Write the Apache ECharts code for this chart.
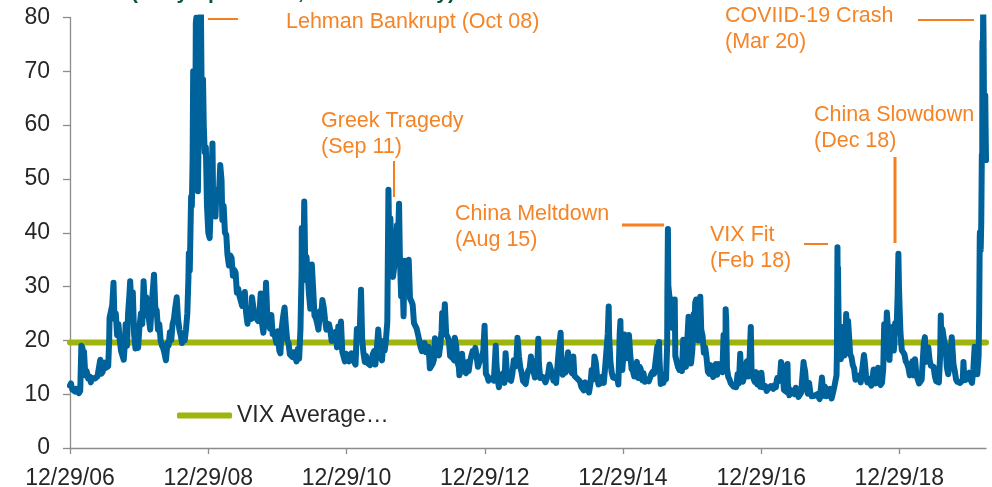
<!DOCTYPE html>
<html>
<head>
<meta charset="utf-8">
<script src="https://cdn.jsdelivr.net/npm/echarts@6/dist/echarts.min.js"></script>
<style>
html, body { margin: 0; padding: 0; background: #fff; }
#vix { width: 992px; height: 487px; }
</style>
</head>
<body>
<div id="vix"></div>
<script>
// VIX close (roughly weekly, denser around spikes)
var vixDates = [
 '2006-12-29','2007-01-03','2007-01-10','2007-01-17','2007-01-24','2007-01-31','2007-02-07','2007-02-14','2007-02-21','2007-02-27',
 '2007-03-05','2007-03-09','2007-03-13','2007-03-20','2007-03-27','2007-04-04','2007-04-11','2007-04-18','2007-04-25','2007-05-02',
 '2007-05-09','2007-05-16','2007-05-23','2007-05-30','2007-06-07','2007-06-13','2007-06-20','2007-06-27','2007-07-05','2007-07-12',
 '2007-07-19','2007-07-24','2007-07-26','2007-08-01','2007-08-09','2007-08-16','2007-08-21','2007-08-28','2007-09-04','2007-09-11',
 '2007-09-18','2007-09-25','2007-10-02','2007-10-09','2007-10-16','2007-10-19','2007-10-26','2007-11-01','2007-11-08','2007-11-12',
 '2007-11-19','2007-11-26','2007-12-03','2007-12-10','2007-12-17','2007-12-24','2007-12-31',
 '2008-01-08','2008-01-15','2008-01-22','2008-01-29','2008-02-05','2008-02-12','2008-02-19','2008-02-26','2008-03-04','2008-03-10',
 '2008-03-17','2008-03-24','2008-03-31','2008-04-07','2008-04-14','2008-04-21','2008-04-28','2008-05-05','2008-05-12','2008-05-19',
 '2008-05-27','2008-06-02','2008-06-09','2008-06-16','2008-06-23','2008-06-30','2008-07-07','2008-07-15','2008-07-22','2008-07-29',
 '2008-08-05','2008-08-12','2008-08-19','2008-08-26','2008-09-02','2008-09-09','2008-09-15','2008-09-17','2008-09-22','2008-09-29',
 '2008-10-03','2008-10-07','2008-10-10','2008-10-16','2008-10-20','2008-10-24','2008-10-27','2008-10-31','2008-11-04','2008-11-07',
 '2008-11-12','2008-11-17','2008-11-20','2008-11-25','2008-12-01','2008-12-05','2008-12-10','2008-12-16','2008-12-22','2008-12-29',
 '2009-01-05','2009-01-09','2009-01-15','2009-01-20','2009-01-23','2009-01-30','2009-02-05','2009-02-10','2009-02-17','2009-02-23',
 '2009-03-02','2009-03-09','2009-03-13','2009-03-20','2009-03-27','2009-04-03','2009-04-09','2009-04-17','2009-04-24','2009-05-01',
 '2009-05-08','2009-05-15','2009-05-22','2009-05-29','2009-06-05','2009-06-12','2009-06-19','2009-06-26','2009-07-02','2009-07-10',
 '2009-07-17','2009-07-24','2009-07-31','2009-08-07','2009-08-14','2009-08-17','2009-08-28','2009-09-04','2009-09-11','2009-09-18',
 '2009-09-25','2009-10-02','2009-10-09','2009-10-16','2009-10-23','2009-10-30','2009-11-06','2009-11-13','2009-11-20','2009-11-27',
 '2009-12-04','2009-12-11','2009-12-18','2009-12-24','2009-12-31',
 '2010-01-08','2010-01-14','2010-01-21','2010-01-29','2010-02-05','2010-02-12','2010-02-19','2010-02-26','2010-03-05','2010-03-12',
 '2010-03-19','2010-03-26','2010-04-02','2010-04-09','2010-04-16','2010-04-23','2010-04-30','2010-05-06','2010-05-07','2010-05-14',
 '2010-05-20','2010-05-25','2010-06-01','2010-06-07','2010-06-14','2010-06-21','2010-06-29','2010-07-06','2010-07-13','2010-07-20',
 '2010-07-27','2010-08-03','2010-08-11','2010-08-17','2010-08-24','2010-08-31','2010-09-07','2010-09-14','2010-09-21','2010-09-28',
 '2010-10-05','2010-10-12','2010-10-19','2010-10-26','2010-11-02','2010-11-09','2010-11-16','2010-11-23','2010-11-30','2010-12-07',
 '2010-12-14','2010-12-21','2010-12-28',
 '2011-01-04','2011-01-11','2011-01-18','2011-01-25','2011-02-01','2011-02-08','2011-02-15','2011-02-22','2011-03-01','2011-03-08',
 '2011-03-16','2011-03-22','2011-03-29','2011-04-05','2011-04-12','2011-04-19','2011-04-26','2011-05-03','2011-05-10','2011-05-17',
 '2011-05-24','2011-05-31','2011-06-07','2011-06-15','2011-06-21','2011-06-28','2011-07-05','2011-07-12','2011-07-19','2011-07-26',
 '2011-08-02','2011-08-04','2011-08-08','2011-08-10','2011-08-15','2011-08-18','2011-08-22','2011-08-26','2011-09-01','2011-09-08',
 '2011-09-12','2011-09-19','2011-09-22','2011-09-27','2011-10-03','2011-10-07','2011-10-14','2011-10-21','2011-10-27','2011-11-01',
 '2011-11-08','2011-11-16','2011-11-23','2011-11-30','2011-12-07','2011-12-14','2011-12-21','2011-12-28',
 '2012-01-04','2012-01-11','2012-01-18','2012-01-25','2012-02-01','2012-02-08','2012-02-15','2012-02-22','2012-02-29','2012-03-07',
 '2012-03-14','2012-03-21','2012-03-28','2012-04-04','2012-04-10','2012-04-17','2012-04-24','2012-05-01','2012-05-08','2012-05-15',
 '2012-05-18','2012-05-25','2012-06-01','2012-06-08','2012-06-15','2012-06-22','2012-06-29','2012-07-06','2012-07-13','2012-07-20',
 '2012-07-24','2012-07-31','2012-08-07','2012-08-14','2012-08-17','2012-08-24','2012-08-31','2012-09-07','2012-09-14','2012-09-21',
 '2012-09-28','2012-10-05','2012-10-12','2012-10-19','2012-10-26','2012-11-02','2012-11-09','2012-11-16','2012-11-23','2012-11-30',
 '2012-12-07','2012-12-14','2012-12-21','2012-12-28',
 '2013-01-04','2013-01-11','2013-01-18','2013-01-25','2013-02-01','2013-02-08','2013-02-15','2013-02-25','2013-03-01','2013-03-08',
 '2013-03-14','2013-03-22','2013-03-28','2013-04-05','2013-04-12','2013-04-18','2013-04-26','2013-05-03','2013-05-10','2013-05-17',
 '2013-05-24','2013-05-31','2013-06-07','2013-06-14','2013-06-20','2013-06-28','2013-07-05','2013-07-12','2013-07-19','2013-07-26',
 '2013-08-02','2013-08-09','2013-08-16','2013-08-23','2013-08-30','2013-09-06','2013-09-13','2013-09-20','2013-09-27','2013-10-04',
 '2013-10-08','2013-10-11','2013-10-18','2013-10-25','2013-11-01','2013-11-08','2013-11-15','2013-11-22','2013-11-29','2013-12-06',
 '2013-12-13','2013-12-20','2013-12-27',
 '2014-01-03','2014-01-10','2014-01-17','2014-01-24','2014-01-31','2014-02-03','2014-02-07','2014-02-14','2014-02-21','2014-02-28',
 '2014-03-07','2014-03-14','2014-03-21','2014-03-28','2014-04-04','2014-04-11','2014-04-17','2014-04-25','2014-05-02','2014-05-09',
 '2014-05-16','2014-05-23','2014-05-30','2014-06-06','2014-06-13','2014-06-20','2014-06-27','2014-07-03','2014-07-11','2014-07-17',
 '2014-07-25','2014-08-01','2014-08-08','2014-08-15','2014-08-22','2014-08-29','2014-09-05','2014-09-12','2014-09-19','2014-09-26',
 '2014-10-03','2014-10-10','2014-10-15','2014-10-17','2014-10-24','2014-10-31','2014-11-07','2014-11-14','2014-11-21','2014-11-28',
 '2014-12-05','2014-12-12','2014-12-16','2014-12-19','2014-12-26',
 '2015-01-02','2015-01-06','2015-01-09','2015-01-16','2015-01-23','2015-01-30','2015-02-06','2015-02-13','2015-02-20','2015-02-27',
 '2015-03-06','2015-03-13','2015-03-20','2015-03-27','2015-04-02','2015-04-10','2015-04-17','2015-04-24','2015-05-01','2015-05-08',
 '2015-05-15','2015-05-22','2015-05-29','2015-06-05','2015-06-12','2015-06-19','2015-06-29','2015-07-03','2015-07-08','2015-07-10',
 '2015-07-17','2015-07-24','2015-07-31','2015-08-07','2015-08-14','2015-08-20','2015-08-21','2015-08-24','2015-08-26','2015-08-31',
 '2015-09-04','2015-09-11','2015-09-18','2015-09-25','2015-09-29','2015-10-02','2015-10-09','2015-10-16','2015-10-23','2015-10-30',
 '2015-11-06','2015-11-13','2015-11-20','2015-11-27','2015-12-04','2015-12-11','2015-12-14','2015-12-18','2015-12-24','2015-12-31',
 '2016-01-07','2016-01-12','2016-01-15','2016-01-20','2016-01-25','2016-02-01','2016-02-05','2016-02-11','2016-02-16','2016-02-23',
 '2016-03-01','2016-03-08','2016-03-15','2016-03-22','2016-03-29','2016-04-05','2016-04-12','2016-04-19','2016-04-26','2016-05-03',
 '2016-05-10','2016-05-17','2016-05-24','2016-05-31','2016-06-07','2016-06-13','2016-06-16','2016-06-23','2016-06-24','2016-06-27',
 '2016-07-01','2016-07-08','2016-07-15','2016-07-22','2016-07-29','2016-08-05','2016-08-12','2016-08-19','2016-08-26','2016-09-02',
 '2016-09-09','2016-09-12','2016-09-16','2016-09-23','2016-09-30','2016-10-07','2016-10-14','2016-10-21','2016-10-28','2016-11-04',
 '2016-11-08','2016-11-11','2016-11-18','2016-11-25','2016-12-02','2016-12-09','2016-12-16','2016-12-23','2016-12-30',
 '2017-01-06','2017-01-13','2017-01-20','2017-01-27','2017-02-03','2017-02-10','2017-02-17','2017-02-24','2017-03-03','2017-03-10',
 '2017-03-17','2017-03-21','2017-03-24','2017-03-31','2017-04-07','2017-04-13','2017-04-21','2017-04-28','2017-05-05','2017-05-12',
 '2017-05-17','2017-05-19','2017-05-26','2017-06-02','2017-06-09','2017-06-16','2017-06-23','2017-06-30','2017-07-07','2017-07-14',
 '2017-07-21','2017-07-28','2017-08-04','2017-08-10','2017-08-11','2017-08-18','2017-08-25','2017-09-01','2017-09-08','2017-09-15',
 '2017-09-22','2017-09-29','2017-10-06','2017-10-13','2017-10-20','2017-10-27','2017-11-03','2017-11-10','2017-11-15','2017-11-24',
 '2017-12-01','2017-12-08','2017-12-15','2017-12-22','2017-12-29',
 '2018-01-05','2018-01-12','2018-01-19','2018-01-26','2018-01-31','2018-02-02','2018-02-05','2018-02-06','2018-02-08','2018-02-09',
 '2018-02-13','2018-02-16','2018-02-23','2018-03-01','2018-03-07','2018-03-14','2018-03-19','2018-03-23','2018-03-29','2018-04-02',
 '2018-04-06','2018-04-13','2018-04-20','2018-04-27','2018-05-04','2018-05-11','2018-05-18','2018-05-25','2018-06-01','2018-06-08',
 '2018-06-15','2018-06-25','2018-06-29','2018-07-06','2018-07-13','2018-07-20','2018-07-27','2018-08-03','2018-08-10','2018-08-15',
 '2018-08-24','2018-08-31','2018-09-07','2018-09-14','2018-09-21','2018-09-28','2018-10-05','2018-10-10','2018-10-12','2018-10-19',
 '2018-10-24','2018-10-26','2018-10-31','2018-11-07','2018-11-12','2018-11-20','2018-11-23','2018-11-30','2018-12-07','2018-12-14',
 '2018-12-20','2018-12-24','2018-12-27','2018-12-31',
 '2019-01-04','2019-01-11','2019-01-18','2019-01-25','2019-02-01','2019-02-08','2019-02-15','2019-02-22','2019-03-01','2019-03-08',
 '2019-03-15','2019-03-22','2019-03-29','2019-04-05','2019-04-12','2019-04-18','2019-04-26','2019-05-03','2019-05-07','2019-05-13',
 '2019-05-17','2019-05-24','2019-05-31','2019-06-07','2019-06-14','2019-06-21','2019-06-28','2019-07-05','2019-07-12','2019-07-19',
 '2019-07-26','2019-08-02','2019-08-05','2019-08-09','2019-08-14','2019-08-23','2019-08-30','2019-09-06','2019-09-13','2019-09-20',
 '2019-09-27','2019-10-02','2019-10-08','2019-10-11','2019-10-18','2019-10-25','2019-11-01','2019-11-08','2019-11-15','2019-11-22',
 '2019-11-29','2019-12-03','2019-12-06','2019-12-13','2019-12-20','2019-12-27',
 '2020-01-03','2020-01-10','2020-01-17','2020-01-24','2020-01-31','2020-02-07','2020-02-14','2020-02-21','2020-02-24','2020-02-27',
 '2020-02-28','2020-03-03','2020-03-06','2020-03-09','2020-03-11','2020-03-12','2020-03-13','2020-03-16','2020-03-18','2020-03-20',
 '2020-03-23','2020-03-25','2020-03-27','2020-03-31'
];
var vixValues = [
 11.6,12.0,10.9,10.6,10.5,11.0,10.8,10.2,10.6,19.0,
 18.6,14.7,17.9,13.5,14.3,12.9,13.3,12.2,13.0,13.1,
 12.9,13.0,13.3,13.5,16.4,13.8,14.2,15.9,14.9,15.1,
 15.2,20.0,24.2,24.0,26.5,30.7,24.0,25.0,21.0,23.0,
 20.0,18.0,18.0,16.4,20.0,23.0,19.0,25.0,28.5,31.0,
 26.0,28.9,21.0,18.5,21.7,18.6,22.5,
 25.0,23.0,31.0,26.0,28.0,25.0,24.0,22.0,26.0,29.0,
 32.2,26.0,25.6,22.0,23.0,20.0,19.0,18.5,17.5,16.3,
 19.5,19.0,21.5,20.0,23.0,23.9,26.0,28.0,24.0,22.0,
 21.0,19.5,21.0,20.0,22.0,25.0,31.7,36.2,33.0,46.7,
 45.0,53.7,70.0,67.0,52.0,79.0,80.0,59.9,47.7,56.0,
 66.0,67.0,80.9,60.9,68.5,59.9,55.0,55.9,45.0,40.0,
 39.0,42.8,51.0,56.6,47.3,44.8,43.0,48.0,48.0,47.0,
 52.6,49.7,42.4,45.0,40.0,39.6,36.0,33.9,35.8,35.3,
 32.0,33.1,32.6,28.9,29.6,28.2,28.0,26.4,27.9,29.0,
 25.0,23.1,25.9,24.8,24.0,28.0,25.0,25.3,24.0,23.6,
 25.0,28.7,23.1,21.4,24.0,30.7,24.2,23.0,22.2,24.7,
 21.2,21.6,21.7,19.5,21.7,
 18.1,17.6,22.3,24.6,26.1,22.7,20.0,19.5,17.4,17.6,
 16.9,17.8,17.5,16.1,18.4,16.6,22.1,32.8,40.9,31.2,
 45.8,34.6,35.5,35.2,28.6,25.9,34.1,29.7,24.6,24.2,
 23.2,22.0,25.4,24.3,27.5,26.1,23.8,22.0,21.9,23.0,
 21.8,19.9,20.6,20.7,21.6,18.7,22.6,21.4,23.5,17.9,
 17.6,16.1,17.5,
 17.4,16.1,15.9,17.6,17.6,16.0,15.5,22.1,20.7,20.2,
 29.4,20.2,17.6,16.0,17.1,15.8,15.6,15.4,15.9,17.4,
 18.0,15.5,18.1,22.0,18.9,16.9,16.3,19.9,18.1,20.2,
 23.4,32.0,48.0,42.9,32.9,42.7,42.4,35.6,31.8,33.8,
 38.6,38.0,41.4,37.8,45.4,36.2,28.2,31.3,24.5,34.8,
 30.0,32.9,35.0,27.8,27.3,26.6,23.2,23.5,
 22.2,21.1,20.0,18.7,18.0,18.6,19.5,17.8,18.4,18.8,
 14.8,15.1,15.6,16.4,20.4,18.5,18.1,17.2,19.1,21.9,
 25.1,21.8,26.7,21.2,21.1,20.1,17.1,17.1,16.7,16.3,
 20.5,18.9,15.9,15.0,13.5,15.2,17.5,14.4,14.5,13.9,
 16.0,14.3,16.1,17.1,18.0,17.6,18.6,17.0,15.1,15.9,
 15.9,17.0,18.0,22.7,
 13.8,13.4,12.5,12.9,12.9,13.0,12.5,19.0,15.4,12.6,
 11.3,13.6,12.7,13.9,12.1,17.6,13.6,12.9,12.6,12.5,
 13.8,16.3,15.1,16.3,20.5,16.9,14.9,14.0,12.5,12.7,
 11.9,13.4,14.4,14.8,17.0,15.4,14.2,13.1,15.5,16.7,
 20.3,15.7,13.0,13.1,13.2,12.9,12.2,12.3,13.7,15.5,
 15.8,13.8,12.5,
 12.9,12.1,12.4,18.1,18.4,21.4,15.3,13.6,14.7,14.0,
 14.1,17.8,15.0,14.4,13.9,17.0,13.4,13.3,12.9,12.9,
 12.4,11.4,11.4,10.7,12.2,10.9,11.3,10.3,12.1,14.5,
 12.7,17.0,15.8,13.2,11.8,12.1,12.1,13.3,12.1,14.9,
 14.6,21.2,26.3,21.0,16.1,14.0,13.1,13.3,12.9,13.3,
 11.8,21.1,23.6,16.5,14.5,
 17.8,21.1,17.6,20.9,16.7,21.0,17.3,14.7,14.3,13.3,
 15.2,16.0,13.0,15.1,14.7,12.6,13.9,12.3,12.7,12.9,
 12.4,12.1,13.8,14.2,13.8,13.9,18.9,16.8,19.7,16.8,
 11.9,13.7,12.1,13.4,12.8,19.1,28.0,40.7,30.3,28.4,
 27.8,23.2,22.3,23.6,27.6,17.1,17.1,15.1,14.5,15.1,
 14.3,20.1,15.5,15.1,14.8,24.4,22.7,20.7,15.7,18.2,
 24.9,22.5,27.0,27.6,24.2,20.0,23.4,28.1,22.0,20.9,
 17.7,18.7,16.8,14.2,13.8,15.4,14.9,13.2,13.9,15.6,
 13.6,15.6,14.4,14.2,14.1,21.0,19.4,17.3,25.8,23.9,
 14.8,13.2,12.7,12.0,11.9,11.4,11.6,11.3,13.7,12.0,
 17.5,15.2,15.4,12.3,13.3,13.5,16.1,13.3,16.2,22.5,
 14.4,14.2,12.9,12.3,14.1,11.8,12.2,11.4,14.0,
 11.3,11.2,11.5,10.6,11.0,10.9,11.5,11.5,11.0,11.7,
 11.3,12.5,13.0,12.4,12.9,16.0,14.6,10.8,10.6,10.4,
 15.6,12.0,9.8,9.8,10.7,10.4,10.0,11.2,11.2,9.5,
 9.4,10.3,10.0,16.0,15.5,14.3,11.3,10.1,12.1,10.2,
 9.6,9.5,9.7,9.6,10.0,9.8,9.1,11.3,13.1,9.7,
 11.4,9.6,10.5,9.9,11.0,
 9.2,10.2,11.3,11.1,13.5,17.3,37.3,30.0,33.5,29.1,
 19.3,19.5,16.5,22.5,18.4,17.2,19.0,24.9,20.0,23.6,
 21.5,17.4,16.9,15.4,14.8,12.7,13.4,13.2,13.5,12.2,
 12.0,17.3,16.1,13.4,12.2,12.9,13.0,11.6,13.2,14.6,
 12.0,12.9,14.9,12.1,11.7,12.1,14.8,23.0,21.3,19.9,
 25.2,24.2,21.2,16.4,20.5,22.5,21.5,18.1,23.2,21.6,
 28.4,36.1,30.0,25.4,
 21.4,18.2,17.8,17.4,16.1,15.7,14.9,13.5,14.6,16.1,
 13.5,16.5,13.7,12.8,12.0,12.1,12.7,12.9,19.3,20.6,
 16.0,15.9,18.7,16.3,15.3,15.4,15.1,13.3,12.4,12.2,
 12.2,17.6,24.6,18.0,22.1,19.9,19.0,15.0,13.7,15.3,
 17.2,20.6,20.3,15.6,14.3,12.7,12.3,12.1,12.1,12.3,
 12.6,16.0,13.6,12.6,12.5,13.4,
 14.0,12.6,12.1,14.6,18.8,15.5,13.7,17.1,25.0,39.2,
 40.1,36.8,41.9,54.5,53.9,75.5,57.8,82.7,76.5,66.0,
 61.6,63.9,65.5,53.5
];
var avgLevel = 19.6;
var avgName = 'VIX Average\u2026';
var tickDates = ['2006-12-29','2008-12-29','2010-12-29','2012-12-29','2014-12-29','2016-12-29','2018-12-29'];

if (vixDates.length !== vixValues.length) {
  throw new Error('length mismatch ' + vixDates.length + ' vs ' + vixValues.length);
}

// annotation texts with their place on the picture (pixels)
var notes = [
  { lines: ['Lehman Bankrupt (Oct 08)'], x: 286, y: 22, lead: [208, 19, 238, 19], w: 2 },
  { lines: ['COVIID-19 Crash', '(Mar 20)'], x: 725, y: 16, lead: [918, 20, 974, 20], w: 2 },
  { lines: ['Greek Tragedy', '(Sep 11)'], x: 321, y: 121, lead: [394, 161, 394, 197], w: 2 },
  { lines: ['China Meltdown', '(Aug 15)'], x: 455, y: 214, lead: [622, 225, 664, 225], w: 3 },
  { lines: ['VIX Fit', '(Feb 18)'], x: 710, y: 235, lead: [804, 244, 828, 244], w: 2 },
  { lines: ['China Slowdown', '(Dec 18)'], x: 814, y: 115, lead: [895, 157, 895, 243], w: 3 }
];

function day(s) {
  var p = s.split('-');
  return Date.UTC(+p[0], +p[1] - 1, +p[2]);
}
function pad(n) { return (n < 10 ? '0' : '') + n; }

var vixData = vixDates.map(function (d, i) { return [day(d), vixValues[i]]; });
var avgData = [[day(vixDates[0]), avgLevel], [day(vixDates[vixDates.length - 1]), avgLevel]];
var tickTimes = tickDates.map(day);

var orange = '#f58426';
var graphics = [{
  type: 'text', left: 131, top: -17, silent: true,
  style: { text: '(Daily Spot Price, 2007 to Today)', font: 'bold 21px "Liberation Sans", Arial', fill: '#0b5444' }
}];
notes.forEach(function (n) {
  n.lines.forEach(function (t, k) {
    graphics.push({
      type: 'text', x: n.x, y: n.y + k * 26, silent: true,
      style: { text: t, font: '21.5px "Liberation Sans", Arial', fill: orange, verticalAlign: 'middle' }
    });
  });
  graphics.push({
    type: 'line', silent: true,
    shape: { x1: n.lead[0], y1: n.lead[1], x2: n.lead[2], y2: n.lead[3] },
    style: { stroke: '#f57f1e', lineWidth: n.w }
  });
});

var chart = echarts.init(document.getElementById('vix'));
var option = {
  animation: false,
  backgroundColor: '#fff',
  textStyle: { fontFamily: '"Liberation Sans", Arial, sans-serif' },
  grid: { left: 70, right: 6, top: 17.5, bottom: 39, outerBoundsMode: 'none', containLabel: false },
  legend: {
    left: 177, top: 404, padding: 0,
    itemWidth: 55, itemHeight: 6,
    data: [{ name: avgName, icon: 'roundRect' }],
    textStyle: { fontSize: 23, color: '#262626' }
  },
  xAxis: {
    type: 'value',
    min: day(vixDates[0]),
    max: day(vixDates[vixDates.length - 1]),
    splitLine: { show: false },
    axisLine: { lineStyle: { color: '#8c8c8c', width: 1.3 } },
    axisTick: { show: true, length: 6, customValues: tickTimes, lineStyle: { color: '#8c8c8c', width: 1.3 } },
    axisLabel: {
      customValues: tickTimes, margin: 19, fontSize: 23, color: '#262626',
      formatter: function (v) {
        var d = new Date(v);
        return pad(d.getUTCMonth() + 1) + '/' + pad(d.getUTCDate()) + '/' + pad(d.getUTCFullYear() % 100);
      }
    }
  },
  yAxis: {
    type: 'value', min: 0, max: 80, interval: 10,
    splitLine: { show: false },
    axisLine: { show: true, lineStyle: { color: '#8c8c8c', width: 1.3 } },
    axisTick: { show: true, length: 7, lineStyle: { color: '#8c8c8c', width: 1.3 } },
    axisLabel: { margin: 20, fontSize: 23, color: '#262626' }
  },
  series: [
    {
      name: avgName, type: 'line', data: avgData, z: 2,
      symbol: 'none', color: '#9fb50e',
      lineStyle: { width: 6, color: '#9fb50e', cap: 'round' }
    },
    {
      name: 'VIX', type: 'line', data: vixData, z: 3,
      symbol: 'none', clip: true, color: '#00629b',
      lineStyle: { width: 6, color: '#00629b', cap: 'round', join: 'round' }
    }
  ],
  graphic: graphics
};
chart.setOption(option);
</script>
</body>
</html>
